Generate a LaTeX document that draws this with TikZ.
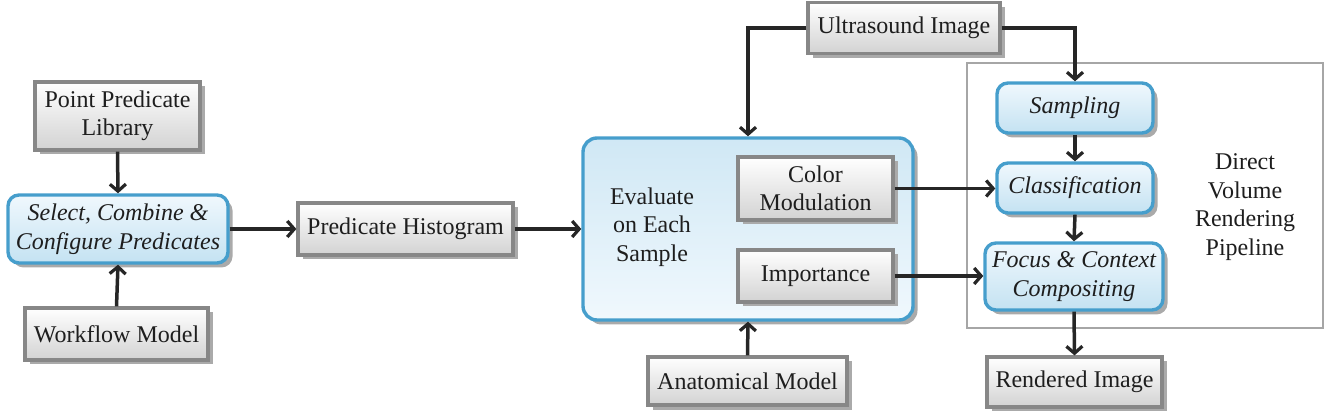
\documentclass[tikz,border=0pt]{standalone}
\usepackage{fontspec}
\setmainfont{Liberation Serif}
\usetikzlibrary{arrows.meta,shadows}
\definecolor{gborder}{RGB}{135,135,135}
\definecolor{bborder}{RGB}{70,158,204}
\definecolor{btop}{RGB}{240,248,253}
\definecolor{bbot}{RGB}{196,226,242}
\definecolor{txt}{RGB}{30,30,30}
\definecolor{shad}{RGB}{170,170,170}
\newcommand{\bigfont}{\fontsize{24}{28.5}\selectfont}
\tikzset{
  graybox/.style={draw=gborder, line width=3.2pt, top color=white, bottom color=gray!35,
    drop shadow={shadow xshift=4.5pt, shadow yshift=-4.5pt, fill=shad, opacity=1},
    align=center, inner sep=0pt, text=txt, font=\bigfont},
  bluebox/.style={draw=bborder, line width=3.4pt, rounded corners=11pt, top color=btop, bottom color=bbot,
    drop shadow={shadow xshift=4.5pt, shadow yshift=-4.5pt, fill=shad, opacity=1},
    align=center, inner sep=0pt, text=txt, font=\bigfont\itshape},
  conn/.style={line width=3.5pt, draw=black!85, -{Straight Barb[length=7pt,width=16pt,line width=3.2pt]}},
  lbl/.style={align=center, text=txt, inner sep=0pt, font=\bigfont}
}
\begin{document}
\begin{tikzpicture}[x=1pt,y=-1pt]
\useasboundingbox (0,0) rectangle (1325,411);
% frame
\node[draw=gray!70, line width=2.2pt, minimum width=356pt, minimum height=265pt, inner sep=0pt] (frame) at (1145,195.5) {};
\node[lbl] (dvr) at (1245,207) {Direct\\Volume\\Rendering\\Pipeline};
% left part
\node[graybox, minimum width=165pt, minimum height=68pt] (ppl) at (117.5,116) {Point Predicate\\Library};
\node[bluebox, minimum width=220pt, minimum height=68pt] (scp) at (118,229) {Select, Combine \&\\Configure Predicates};
\node[graybox, minimum width=183pt, minimum height=52pt] (wf) at (116.5,334) {Workflow Model};
\node[graybox, minimum width=215pt, minimum height=52pt] (ph) at (405.5,229) {Predicate Histogram};
% evaluate
\node[bluebox, rounded corners=14pt, top color=bbot!80, bottom color=btop, minimum width=330pt, minimum height=182pt] (eval) at (748,229) {};
\node[lbl] (evt) at (652,227) {Evaluate\\on Each\\Sample};
\node[graybox, minimum width=155pt, minimum height=63pt] (cm) at (815.5,188.5) {Color\\Modulation};
\node[graybox, minimum width=155pt, minimum height=52pt] (imp) at (815.5,276) {Importance};
\node[graybox, minimum width=192pt, minimum height=51pt] (us) at (904,28) {Ultrasound Image};
\node[graybox, minimum width=199pt, minimum height=48pt] (am) at (747.5,381) {Anatomical Model};
% pipeline
\node[bluebox, minimum width=156pt, minimum height=50pt] (samp) at (1075,108) {Sampling};
\node[bluebox, minimum width=156pt, minimum height=50pt] (cls) at (1075,188) {Classification};
\node[bluebox, minimum width=178pt, minimum height=67pt] (fc) at (1074,276.5) {Focus \& Context\\Compositing};
\node[graybox, minimum width=175pt, minimum height=50pt] (ri) at (1074.5,382) {Rendered Image};
% connectors
\draw[conn] (ppl.south) -- (scp.north);
\draw[conn] (wf.north) -- (scp.south);
\draw[conn] (scp.east) -- (ph.west);
\draw[conn] (ph.east) -- (eval.west);
\draw[conn] (us.west) -| (eval.north);
\draw[conn] (us.east) -| (samp.north);
\draw[conn] (am.north) -- (eval.south);
\draw[conn] (cm.east) -- (cm.east -| cls.west);
\draw[conn] (imp.east) -- (imp.east -| fc.west);
\draw[conn] (samp.south) -- (cls.north);
\draw[conn] (cls.south) -- (fc.north);
\draw[conn] (fc.south) -- (ri.north);
\end{tikzpicture}
\end{document}
